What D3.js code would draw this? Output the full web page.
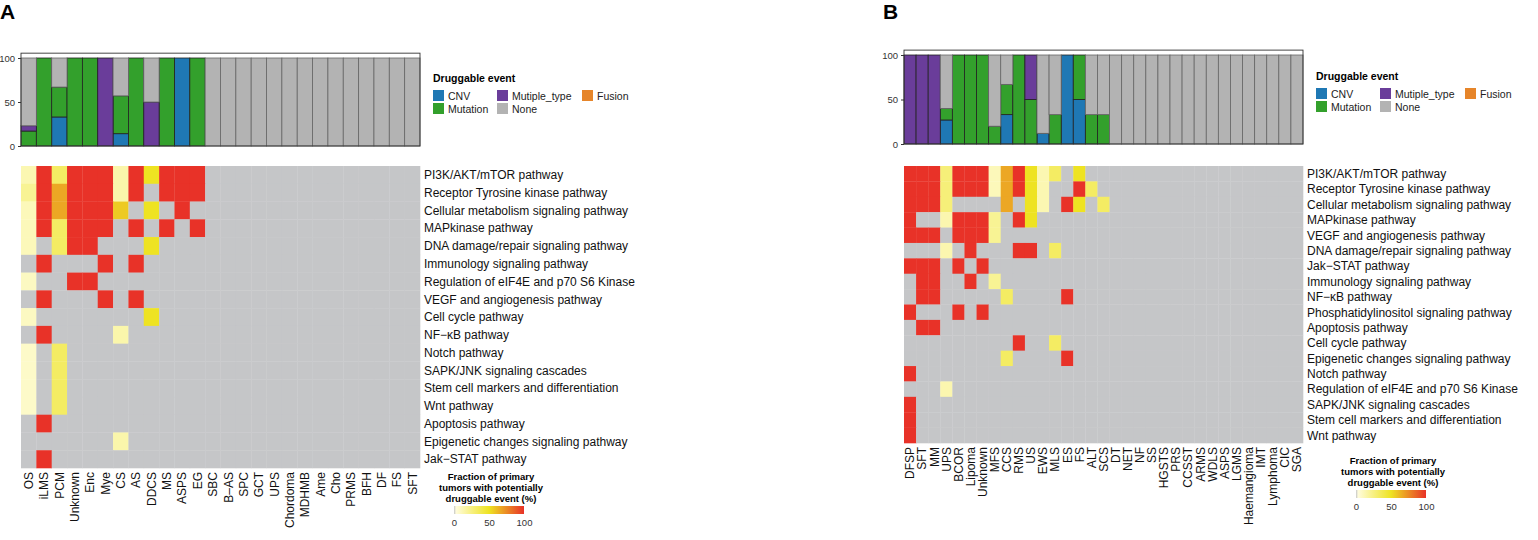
<!DOCTYPE html>
<html>
<head>
<meta charset="utf-8">
<script src="https://cdn.jsdelivr.net/npm/d3@7"></script>
<style>
  body { margin: 0; background: #fff; }
  text { font-family: "Liberation Sans", Arial, sans-serif; }
</style>
</head>
<body>
<svg id="chart" width="1538" height="540"></svg>
<script>
// ---- data, panel A ----
const tumorsA = ["OS", "iLMS", "PCM", "Unknown", "Enc", "Mye", "CS", "AS", "DDCS", "MS", "ASPS", "EG",
  "SBC", "B\u2013AS", "SPC", "GCT", "UPS", "Chordoma", "MDHMB", "Ame", "Cho", "PRMS", "BFH", "DF", "FS", "SFT"];
const pathwaysA = ["PI3K/AKT/mTOR pathway", "Receptor Tyrosine kinase pathway", "Cellular metabolism signaling pathway",
  "MAPkinase pathway", "DNA damage/repair signaling pathway", "Immunology signaling pathway",
  "Regulation of eIF4E and p70 S6 Kinase", "VEGF and angiogenesis pathway", "Cell cycle pathway",
  "NF\u2212\u03BAB pathway", "Notch pathway", "SAPK/JNK signaling cascades", "Stem cell markers and differentiation",
  "Wnt pathway", "Apoptosis pathway", "Epigenetic changes signaling pathway", "Jak\u2212STAT pathway"];
// % of primary tumours with a druggable event, one row per pathway
const heatA = [
  [12,100,33,100,100,100,14,100,50,100,100,100, 0,0,0,0,0,0,0,0,0,0,0,0,0,0],
  [20,100,67,100,100,100,14,100,0,100,100,100, 0,0,0,0,0,0,0,0,0,0,0,0,0,0],
  [10,100,67,100,100,100,57,0,50,0,100,0, 0,0,0,0,0,0,0,0,0,0,0,0,0,0],
  [10,100,33,100,100,100,0,100,0,100,0,100, 0,0,0,0,0,0,0,0,0,0,0,0,0,0],
  [10,0,33,100,100,0,0,0,50,0,0,0, 0,0,0,0,0,0,0,0,0,0,0,0,0,0],
  [0,100,0,0,0,100,0,100,0,0,0,0, 0,0,0,0,0,0,0,0,0,0,0,0,0,0],
  [8,0,0,100,100,0,0,0,0,0,0,0, 0,0,0,0,0,0,0,0,0,0,0,0,0,0],
  [0,100,0,0,0,100,0,100,0,0,0,0, 0,0,0,0,0,0,0,0,0,0,0,0,0,0],
  [8,0,0,0,0,0,0,0,50,0,0,0, 0,0,0,0,0,0,0,0,0,0,0,0,0,0],
  [0,100,0,0,0,0,14,0,0,0,0,0, 0,0,0,0,0,0,0,0,0,0,0,0,0,0],
  [6,0,33,0,0,0,0,0,0,0,0,0, 0,0,0,0,0,0,0,0,0,0,0,0,0,0],
  [6,0,33,0,0,0,0,0,0,0,0,0, 0,0,0,0,0,0,0,0,0,0,0,0,0,0],
  [6,0,33,0,0,0,0,0,0,0,0,0, 0,0,0,0,0,0,0,0,0,0,0,0,0,0],
  [6,0,33,0,0,0,0,0,0,0,0,0, 0,0,0,0,0,0,0,0,0,0,0,0,0,0],
  [0,100,0,0,0,0,0,0,0,0,0,0, 0,0,0,0,0,0,0,0,0,0,0,0,0,0],
  [0,0,0,0,0,0,14,0,0,0,0,0, 0,0,0,0,0,0,0,0,0,0,0,0,0,0],
  [0,100,0,0,0,0,0,0,0,0,0,0, 0,0,0,0,0,0,0,0,0,0,0,0,0,0]
];
// stacked bar shares (%), per tumour type
const cnvA      = [0,0,33,0,0,0,14,0,0,0,100,0, 0,0,0,0,0,0,0,0,0,0,0,0,0,0];
const mutationA = [17,100,34,100,100,0,43,100,0,100,0,100, 0,0,0,0,0,0,0,0,0,0,0,0,0,0];
const multipleA = [6,0,0,0,0,100,0,0,50,0,0,0, 0,0,0,0,0,0,0,0,0,0,0,0,0,0];
const fusionA   = [0,0,0,0,0,0,0,0,0,0,0,0, 0,0,0,0,0,0,0,0,0,0,0,0,0,0];
const noneA     = [77,0,33,0,0,0,43,0,50,0,0,0, 100,100,100,100,100,100,100,100,100,100,100,100,100,100];

// ---- data, panel B ----
const tumorsB = ["DFSP", "SFT", "MM", "UPS", "BCOR", "Lipoma", "Unknown", "MFS", "CCS", "RMS", "US", "EWS", "MLS",
  "ES", "FS", "ALT", "SCS", "DT", "NET", "NF", "SS", "HGSTS", "PRS", "CCSST", "ARMS", "WDLS", "ASPS", "LGMS",
  "Haemangioma", "IMT", "Lymphoma", "CIC", "SGA"];
const pathwaysB = ["PI3K/AKT/mTOR pathway", "Receptor Tyrosine kinase pathway", "Cellular metabolism signaling pathway",
  "MAPkinase pathway", "VEGF and angiogenesis pathway", "DNA damage/repair signaling pathway", "Jak\u2212STAT pathway",
  "Immunology signaling pathway", "NF\u2212\u03BAB pathway", "Phosphatidylinositol signaling pathway", "Apoptosis pathway",
  "Cell cycle pathway", "Epigenetic changes signaling pathway", "Notch pathway", "Regulation of eIF4E and p70 S6 Kinase",
  "SAPK/JNK signaling cascades", "Stem cell markers and differentiation", "Wnt pathway"];
const heatB = [
  [100,100,100,27,100,100,100,10,67,100,50,12,33,0,50,0,0, 0,0,0,0,0,0,0,0,0,0,0,0,0,0,0,0],
  [100,100,100,27,100,100,100,10,67,100,50,12,0,0,100,33,0, 0,0,0,0,0,0,0,0,0,0,0,0,0,0,0,0],
  [100,100,100,27,0,0,0,0,67,0,50,12,0,100,50,0,33, 0,0,0,0,0,0,0,0,0,0,0,0,0,0,0,0],
  [100,0,0,13,100,100,100,20,0,100,50,0,0,0,0,0,0, 0,0,0,0,0,0,0,0,0,0,0,0,0,0,0,0],
  [100,100,100,0,100,100,100,20,0,0,0,0,0,0,0,0,0, 0,0,0,0,0,0,0,0,0,0,0,0,0,0,0,0],
  [0,0,0,13,0,100,0,0,0,100,100,0,33,0,0,0,0, 0,0,0,0,0,0,0,0,0,0,0,0,0,0,0,0],
  [100,100,100,0,100,0,100,0,0,0,0,0,0,0,0,0,0, 0,0,0,0,0,0,0,0,0,0,0,0,0,0,0,0],
  [0,100,100,0,0,100,0,20,0,0,0,0,0,0,0,0,0, 0,0,0,0,0,0,0,0,0,0,0,0,0,0,0,0],
  [0,100,100,0,0,0,0,0,33,0,0,0,0,100,0,0,0, 0,0,0,0,0,0,0,0,0,0,0,0,0,0,0,0],
  [100,0,0,0,100,0,100,0,0,0,0,0,0,0,0,0,0, 0,0,0,0,0,0,0,0,0,0,0,0,0,0,0,0],
  [0,100,100,0,0,0,0,0,0,0,0,0,0,0,0,0,0, 0,0,0,0,0,0,0,0,0,0,0,0,0,0,0,0],
  [0,0,0,0,0,0,0,0,0,100,0,0,33,0,0,0,0, 0,0,0,0,0,0,0,0,0,0,0,0,0,0,0,0],
  [0,0,0,0,0,0,0,0,33,0,0,0,0,100,0,0,0, 0,0,0,0,0,0,0,0,0,0,0,0,0,0,0,0],
  [100,0,0,0,0,0,0,0,0,0,0,0,0,0,0,0,0, 0,0,0,0,0,0,0,0,0,0,0,0,0,0,0,0],
  [0,0,0,13,0,0,0,0,0,0,0,0,0,0,0,0,0, 0,0,0,0,0,0,0,0,0,0,0,0,0,0,0,0],
  [100,0,0,0,0,0,0,0,0,0,0,0,0,0,0,0,0, 0,0,0,0,0,0,0,0,0,0,0,0,0,0,0,0],
  [100,0,0,0,0,0,0,0,0,0,0,0,0,0,0,0,0, 0,0,0,0,0,0,0,0,0,0,0,0,0,0,0,0],
  [100,0,0,0,0,0,0,0,0,0,0,0,0,0,0,0,0, 0,0,0,0,0,0,0,0,0,0,0,0,0,0,0,0]
];
const cnvB      = [0,0,0,27,0,0,0,0,33,0,0,12,0,100,50,0,0, 0,0,0,0,0,0,0,0,0,0,0,0,0,0,0,0];
const mutationB = [0,0,0,13,100,100,100,20,34,100,50,0,33,0,50,33,33, 0,0,0,0,0,0,0,0,0,0,0,0,0,0,0,0];
const multipleB = [100,100,100,0,0,0,0,0,0,0,50,0,0,0,0,0,0, 0,0,0,0,0,0,0,0,0,0,0,0,0,0,0,0];
const fusionB   = [0,0,0,0,0,0,0,0,0,0,0,0,0,0,0,0,0, 0,0,0,0,0,0,0,0,0,0,0,0,0,0,0,0];
const noneB     = [0,0,0,60,0,0,0,80,33,0,0,88,67,0,0,67,67, 100,100,100,100,100,100,100,100,100,100,100,100,100,100,100,100];

const eventKeys = ["CNV", "Mutation", "Mutiple_type", "Fusion", "None"];
const eventColors = ["#1F78B4", "#33A02C", "#6A3D9A", "#E6852A", "#B3B3B3"];
const legendTicks = [0, 50, 100];

// ---- drawing ----
const svg = d3.select("#chart");
const FONT = "'Liberation Sans', Arial, sans-serif";
const gridGray = "#C5C6C8";
const heatColor = d3.scaleLinear().domain([0, 50, 100])
  .range(["#FFFDE0", "#EEE322", "#E83228"]).clamp(true);
const eventColor = d3.scaleOrdinal().domain(eventKeys).range(eventColors);

function drawPanel(o) {
  const g = svg.append("g").attr("transform", `translate(${o.dx},0)`);

  g.append("text").attr("x", 0).attr("y", 19).attr("font-size", 21)
    .attr("font-weight", "bold").text(o.letter);

  const x = d3.scaleBand().domain(o.tumors).range([21, 420]);

  // stacked bars
  const y = d3.scaleLinear().domain([0, 100]).range([o.barBottom, o.barTop]);
  const rows = o.tumors.map((t, i) => ({
    tumor: t, CNV: o.cnv[i], Mutation: o.mutation[i], Mutiple_type: o.multiple[i],
    Fusion: o.fusion[i], None: o.none[i]
  }));
  const series = d3.stack().keys(eventKeys)(rows);
  g.append("g").selectAll("g").data(series).join("g")
    .attr("fill", d => eventColor(d.key))
    .attr("stroke", d => d.key === "None" ? "#666" : "#222")
    .attr("stroke-width", 0.8)
    .selectAll("rect").data(d => d.filter(s => s[1] > s[0])).join("rect")
    .attr("x", d => x(d.data.tumor))
    .attr("width", x.bandwidth())
    .attr("y", d => y(d[1]))
    .attr("height", d => y(d[0]) - y(d[1]));

  g.append("rect").attr("x", 21).attr("width", 399)
    .attr("y", y(105.5)).attr("height", y(0) - y(105.5))
    .attr("fill", "none").attr("stroke", "#333").attr("stroke-width", 0.9);

  const yAxis = g.append("g").attr("transform", "translate(21,0)")
    .call(d3.axisLeft(y).tickValues([0, 50, 100]).tickSize(3));
  yAxis.select(".domain").remove();
  yAxis.selectAll("text").attr("font-size", 9.5).attr("font-family", FONT).attr("fill", "#333");
  yAxis.selectAll("line").attr("stroke", "#333");

  // event legend
  const lg = g.append("g").attr("transform", `translate(433,${o.legendY})`);
  lg.append("text").attr("x", 0).attr("y", 0).attr("font-size", 10.5)
    .attr("font-weight", "bold").text("Druggable event");
  const pos = [[0, 0], [0, 1], [64, 0], [149, 0], [64, 1]];
  eventKeys.forEach((k, i) => {
    const [px, row] = pos[i];
    lg.append("rect").attr("x", px).attr("y", 8 + row * 13).attr("width", 11).attr("height", 11)
      .attr("fill", eventColor(k));
    lg.append("text").attr("x", px + 15).attr("y", 17.5 + row * 13).attr("font-size", 10.5)
      .attr("fill", "#222").text(k);
  });

  // heatmap
  const yh = d3.scaleBand().domain(o.pathways).range([166, o.heatBottom]);
  const cells = [];
  o.heat.forEach((r, j) => r.forEach((v, i) => cells.push({ p: o.pathways[j], t: o.tumors[i], v })));
  g.append("g").selectAll("rect").data(cells).join("rect")
    .attr("x", d => x(d.t)).attr("y", d => yh(d.p))
    .attr("width", x.bandwidth() + 0.3).attr("height", yh.bandwidth() + 0.3)
    .attr("fill", d => d.v > 0 ? heatColor(d.v) : gridGray);

  g.append("g").selectAll("text").data(o.pathways).join("text")
    .attr("x", 424).attr("y", d => yh(d) + yh.bandwidth() / 2)
    .attr("dy", "0.36em").attr("font-size", 12).attr("fill", "#111").text(d => d);

  g.append("g").selectAll("text").data(o.tumors).join("text")
    .attr("transform", d => `translate(${x(d) + x.bandwidth() / 2},${o.heatBottom + 4}) rotate(-90)`)
    .attr("text-anchor", "end").attr("dy", "0.36em").attr("font-size", 12)
    .attr("fill", "#111").text(d => d);

  // colour legend
  const cg = g.append("g").attr("transform", `translate(${o.cLegendX},${o.cLegendY})`);
  ["Fraction of primary", "tumors with potentially", "druggable event (%)"].forEach((s, i) => {
    cg.append("text").attr("x", 0).attr("y", i * 11).attr("text-anchor", "middle")
      .attr("font-size", 9.5).attr("font-weight", "bold").text(s);
  });
  const gradId = "grad" + o.letter;
  const grad = svg.append("defs").append("linearGradient").attr("id", gradId);
  grad.append("stop").attr("offset", "0%").attr("stop-color", gridGray);
  grad.append("stop").attr("offset", "3%").attr("stop-color", heatColor(1));
  [25, 50, 75, 100].forEach(v => grad.append("stop").attr("offset", v + "%").attr("stop-color", heatColor(v)));
  const lx = d3.scaleLinear().domain([0, 100]).range([-37, 33]);
  cg.append("rect").attr("x", lx(0)).attr("y", 26).attr("width", lx(100) - lx(0)).attr("height", 8)
    .attr("fill", `url(#${gradId})`);
  const ax = cg.append("g").attr("transform", "translate(0,34)")
    .call(d3.axisBottom(lx).tickValues(legendTicks).tickSize(2));
  ax.select(".domain").remove();
  ax.selectAll("line").attr("stroke", "#fff");
  ax.selectAll("text").attr("font-size", 9.5).attr("font-family", FONT).attr("fill", "#333");
}

drawPanel({
  letter: "A", dx: 0, tumors: tumorsA, pathways: pathwaysA, heat: heatA,
  cnv: cnvA, mutation: mutationA, multiple: multipleA, fusion: fusionA, none: noneA,
  barTop: 58, barBottom: 146, heatBottom: 468, legendY: 82,
  cLegendX: 491, cLegendY: 480
});
drawPanel({
  letter: "B", dx: 883, tumors: tumorsB, pathways: pathwaysB, heat: heatB,
  cnv: cnvB, mutation: mutationB, multiple: multipleB, fusion: fusionB, none: noneB,
  barTop: 55, barBottom: 144, heatBottom: 443, legendY: 80,
  cLegendX: 510, cLegendY: 464
});
</script>
</body>
</html>
